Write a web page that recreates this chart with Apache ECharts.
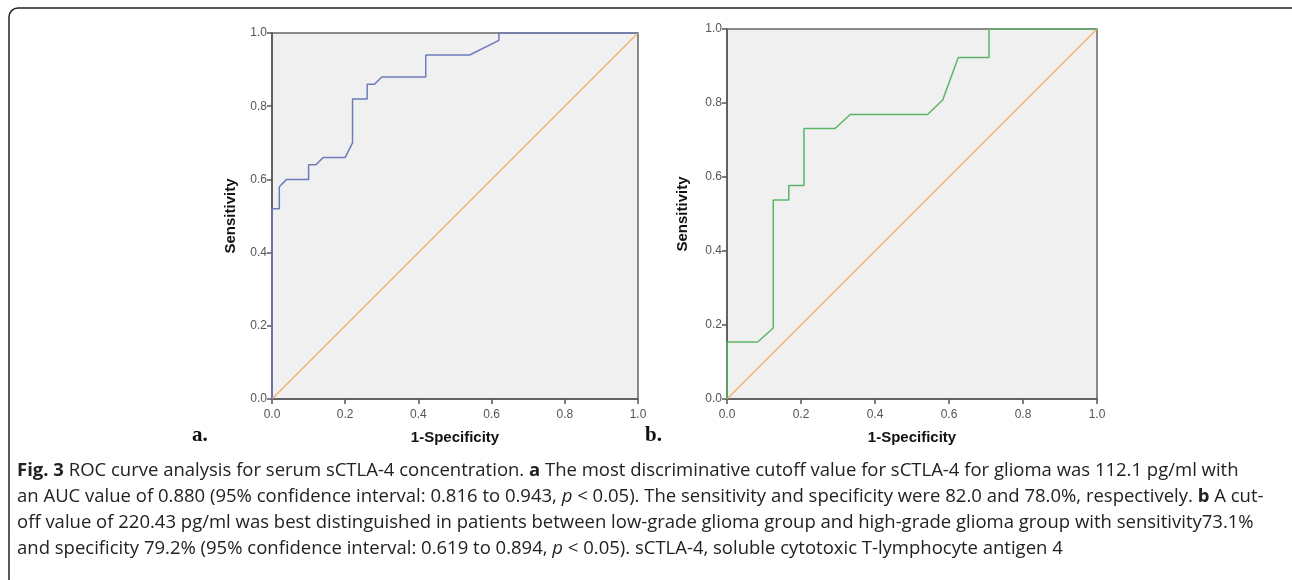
<!DOCTYPE html>
<html>
<head>
<meta charset="utf-8">
<script src="https://cdn.jsdelivr.net/npm/echarts@6/dist/echarts.min.js"></script>
<style>
  html, body { margin: 0; padding: 0; background: #fff; }
  #main { width: 1292px; height: 580px; }
</style>
</head>
<body>
<div id="main"></div>
<script>
// panel a: 1-specificity / sensitivity
const fprA = [0, 0, 0.02, 0.02, 0.04, 0.10, 0.10, 0.12, 0.14, 0.20, 0.22, 0.22, 0.26, 0.26, 0.28, 0.30, 0.42, 0.42, 0.54, 0.62, 0.62, 1.0]
const tprA = [0, 0.52, 0.52, 0.58, 0.60, 0.60, 0.64, 0.64, 0.66, 0.66, 0.70, 0.82, 0.82, 0.86, 0.86, 0.88, 0.88, 0.94, 0.94, 0.98, 1.0, 1.0]
// panel b
const fprB = [0, 0, 0.083, 0.125, 0.125, 0.167, 0.167, 0.208, 0.208, 0.292, 0.333, 0.542, 0.583, 0.625, 0.708, 0.708, 1.0]
const tprB = [0, 0.154, 0.154, 0.192, 0.538, 0.538, 0.577, 0.577, 0.731, 0.731, 0.769, 0.769, 0.808, 0.923, 0.923, 1.0, 1.0]
// reference diagonal
const refLine = [0, 1]

const captionLines = [
  [{ b: 'Fig. 3' }, ' ROC curve analysis for serum sCTLA-4 concentration. ', { b: 'a' }, ' The most discriminative cutoff value for sCTLA-4 for glioma was 112.1 pg/ml with'],
  ['an AUC value of 0.880 (95% confidence interval: 0.816 to 0.943, ', { i: 'p' }, ' < 0.05). The sensitivity and specificity were 82.0 and 78.0%, respectively. ', { b: 'b' }, ' A cut-'],
  ['off value of 220.43 pg/ml was best distinguished in patients between low-grade glioma group and high-grade glioma group with sensitivity73.1%'],
  ['and specificity 79.2% (95% confidence interval: 0.619 to 0.894, ', { i: 'p' }, ' < 0.05). sCTLA-4, soluble cytotoxic T-lymphocyte antigen 4']
]

function pairs(xs, ys) {
  return xs.map((x, i) => [x, ys[i]])
}

function richText(parts) {
  return parts.map(p => {
    if (typeof p === 'string') return '{n|' + p + '}'
    if (p.b) return '{b|' + p.b + '}'
    return '{i|' + p.i + '}'
  }).join('')
}

const chartDom = document.getElementById('main')
const myChart = echarts.init(chartDom)

const labelStyle = {
  color: '#555',
  fontSize: 12,
  fontFamily: 'Liberation Sans',
  formatter: v => v.toFixed(1)
}
const axisCommon = {
  type: 'value',
  min: 0,
  max: 1,
  interval: 0.2,
  axisLine: { show: true, lineStyle: { color: '#555', width: 1.5 } },
  axisTick: { show: true, length: 5, lineStyle: { color: '#555', width: 1.5 } },
  splitLine: { show: false }
}
const nameStyle = { fontFamily: 'Liberation Sans', fontWeight: 'bold', fontSize: 15, color: '#111' }
const captionFont = { fontFamily: 'Open Sans', fontSize: 18.5, lineHeight: 22, fill: '#222' }

const option = {
  animation: false,
  grid: [
    { left: 272, top: 33, width: 366, height: 366, show: true, backgroundColor: '#f0f0f0', borderColor: '#666', borderWidth: 1.5 },
    { left: 727, top: 29, width: 370, height: 370, show: true, backgroundColor: '#f0f0f0', borderColor: '#666', borderWidth: 1.5 }
  ],
  xAxis: [0, 1].map(i => Object.assign({}, axisCommon, {
    gridIndex: i,
    name: '1-Specificity',
    nameLocation: 'middle',
    nameGap: 31,
    nameTextStyle: nameStyle,
    axisLabel: Object.assign({}, labelStyle, { margin: 10 })
  })),
  yAxis: [0, 1].map(i => Object.assign({}, axisCommon, {
    gridIndex: i,
    name: 'Sensitivity',
    nameLocation: 'middle',
    nameGap: i === 0 ? 34 : 37,
    nameRotate: 90,
    nameTextStyle: nameStyle,
    axisLabel: Object.assign({}, labelStyle, { margin: 5 })
  })),
  series: [
    {
      type: 'line', xAxisIndex: 0, yAxisIndex: 0, symbol: 'none', z: 2,
      lineStyle: { color: '#f2b26e', width: 1.5 },
      data: pairs(refLine, refLine)
    },
    {
      type: 'line', xAxisIndex: 0, yAxisIndex: 0, symbol: 'none', z: 3,
      lineStyle: { color: '#6c7bbb', width: 1.5 },
      data: pairs(fprA, tprA)
    },
    {
      type: 'line', xAxisIndex: 1, yAxisIndex: 1, symbol: 'none', z: 2,
      lineStyle: { color: '#f2b26e', width: 1.5 },
      data: pairs(refLine, refLine)
    },
    {
      type: 'line', xAxisIndex: 1, yAxisIndex: 1, symbol: 'none', z: 3,
      lineStyle: { color: '#5cb566', width: 1.5 },
      data: pairs(fprB, tprB)
    }
  ],
  graphic: [
    {
      type: 'rect', silent: true,
      shape: { x: 9, y: 8, width: 1300, height: 580, r: 9 },
      style: { fill: 'none', stroke: '#222', lineWidth: 1.5 }
    },
    {
      type: 'text', left: 192, top: 425,
      style: { text: 'a.', font: 'bold 21px "Liberation Serif"', fill: '#111' }
    },
    {
      type: 'text', left: 645, top: 425,
      style: { text: 'b.', font: 'bold 21px "Liberation Serif"', fill: '#111' }
    }
  ].concat(captionLines.map((line, k) => ({
    type: 'text', left: 17, top: 461 + k * 26,
    style: {
      text: richText(line),
      fill: '#222',
      rich: {
        n: captionFont,
        b: Object.assign({}, captionFont, { fontWeight: 'bold' }),
        i: Object.assign({}, captionFont, { fontStyle: 'italic' })
      }
    }
  })))
}

option && myChart.setOption(option)
</script>
</body>
</html>
